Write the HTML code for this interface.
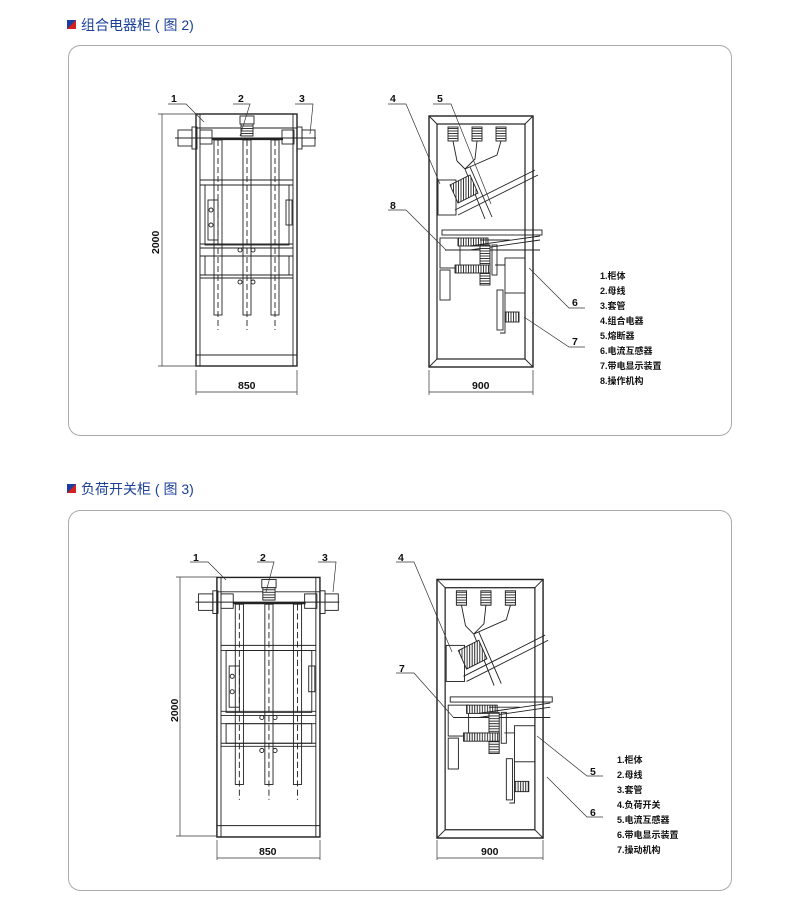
<!DOCTYPE html>
<html><head><meta charset="utf-8"><style>
body{margin:0;background:#fff;width:800px;height:916px;overflow:hidden;font-family:"Liberation Sans","Noto Sans CJK SC",sans-serif}
svg{position:absolute;left:0;top:0}
</style></head><body>
<svg width="800" height="916" viewBox="0 0 800 916" xmlns="http://www.w3.org/2000/svg">
<defs>
<pattern id="coil" width="2.5" height="4" patternUnits="userSpaceOnUse"><rect width="2.5" height="4" fill="#fff"/><line x1="1" y1="0" x2="1" y2="4" stroke="#222" stroke-width="0.9"/></pattern>
<pattern id="coilh" width="4" height="2.5" patternUnits="userSpaceOnUse"><rect width="4" height="2.5" fill="#fff"/><line x1="0" y1="1" x2="4" y2="1" stroke="#222" stroke-width="0.9"/></pattern>
<g id="front" fill="none" stroke="#222" stroke-width="0.9">
  <rect x="196" y="114" width="101" height="252" stroke-width="1.4"/>
  <line x1="200" y1="114" x2="200" y2="366"/><line x1="293" y1="114" x2="293" y2="366"/>
  <line x1="196" y1="128" x2="297" y2="128"/><line x1="196" y1="355" x2="297" y2="355"/>
  <rect x="178" y="130" width="14" height="16"/><rect x="192" y="127" width="5" height="22"/>
  <rect x="200" y="130" width="12" height="14"/>
  <rect x="282" y="130" width="12" height="14"/>
  <rect x="297" y="127" width="5" height="22"/><rect x="302" y="130" width="13" height="16"/>
  <line x1="175" y1="138" x2="316" y2="138"/>
  <rect x="240" y="116" width="14" height="8"/>
  <rect x="241" y="124" width="12" height="12" fill="url(#coilh)"/>
  <line x1="212" y1="139" x2="283" y2="139" stroke-width="2.2"/>
  <rect x="214" y="140" width="8" height="175"/><rect x="243" y="140" width="8" height="175"/><rect x="271" y="140" width="8" height="175"/>
  <path d="M218 140v190M247 140v190M275 140v190" stroke-dasharray="6 3"/>
  <line x1="200" y1="180" x2="293" y2="180"/><line x1="200" y1="185" x2="293" y2="185"/>
  <line x1="200" y1="244" x2="293" y2="244"/><line x1="200" y1="248" x2="293" y2="248"/><line x1="200" y1="256" x2="293" y2="256"/>
  <line x1="200" y1="275" x2="293" y2="275"/><line x1="200" y1="278" x2="293" y2="278"/>
  <rect x="205" y="185" width="84" height="60"/>
  <rect x="208" y="200" width="10" height="40"/><circle cx="211" cy="210" r="2"/><circle cx="211" cy="225" r="2"/>
  <rect x="286" y="200" width="6" height="25"/>
  <circle cx="240" cy="250" r="2"/><circle cx="253" cy="250" r="2"/>
  <circle cx="240" cy="282" r="2"/><circle cx="253" cy="282" r="2"/>
  <rect x="205" y="256" width="84" height="19"/>
</g>
<g id="side" fill="none" stroke="#222" stroke-width="0.9">
  <rect x="429" y="116" width="104" height="251" stroke-width="1.4"/>
  <rect x="437" y="124" width="88" height="235" stroke-width="1.2"/>
  <path d="M429 116l8 8M533 116l-8 8M429 367l8-8M533 367l-8-8"/>
  <rect x="448" y="127" width="10" height="14" fill="url(#coilh)"/><rect x="472" y="127" width="10" height="14" fill="url(#coilh)"/><rect x="496" y="127" width="10" height="14" fill="url(#coilh)"/>
  <path d="M453 141l4 20 8 8M477 141l-2 18-10 10M501 141l-4 14-32 14"/>
  <path d="M465 169l20 50M470 167l22 50"/>
  <rect x="438" y="180" width="18" height="35"/>
  <path d="M450 185l20-10 8 18-20 10z" fill="url(#coil)"/>
  <path d="M455 210l80-40M458 215l80-40"/>
  <rect x="442" y="230" width="100" height="5"/>
  <rect x="440" y="238" width="20" height="30"/>
  <rect x="458" y="238" width="30" height="8" fill="url(#coil)"/>
  <path d="M480 240h30M470 246l70-10M470 250l70 -10M445 250h95"/>
  <rect x="480" y="245" width="10" height="40" fill="url(#coilh)"/><rect x="492" y="245" width="5" height="30"/>
  <rect x="455" y="265" width="35" height="8" fill="url(#coil)"/>
  <rect x="505" y="258" width="20" height="35"/><path d="M495 265h10M505 293v40h-5"/>
  <rect x="440" y="270" width="10" height="30"/>
  <rect x="497" y="290" width="6" height="40"/>
  <rect x="505" y="312" width="14" height="10" fill="url(#coil)"/>
</g>
</defs>

<!-- Section 1 -->
<rect x="67" y="20" width="9" height="9" fill="#1a3fa0"/><path d="M67 29L76 20V29z" fill="#d42020"/>
<text x="81" y="30" font-size="14" fill="#1b3f9a">组合电器柜 ( 图 2)</text>
<rect x="68.5" y="45.5" width="663" height="390" rx="12" fill="none" stroke="#aaa" stroke-width="1"/>
<use href="#front"/><use href="#side"/>
<g stroke="#333" stroke-width="0.7" fill="none">
  <path d="M162 114v252M158 114h38M158 366h38"/>
  <path d="M196 370v25M297 370v25M196 392h101M429 370v25M533 370v25M429 392h104"/>
  <path d="M168 104h18l18 18M233 104h17l-10 32M295 104h18l-3 30"/>
  <path d="M388 104h18l34 80M433 104h18l40 100M388 210h18l40 40"/>
  <path d="M585 308h-16l-40-40M585 347h-16l-45-30"/>
</g>
<g font-size="10.5" fill="#111" font-weight="bold">
<text x="171" y="102">1</text><text x="238" y="102">2</text><text x="299" y="102">3</text>
<text x="390" y="102">4</text><text x="437" y="102">5</text><text x="390" y="209">8</text>
<text x="572" y="306">6</text><text x="572" y="345">7</text>
<text x="238" y="389">850</text><text x="472" y="389">900</text>
<text transform="translate(159 254) rotate(-90)">2000</text>
</g>
<g font-size="9" fill="#111" font-weight="bold">
<text x="600" y="279">1.柜体</text><text x="600" y="294">2.母线</text><text x="600" y="309">3.套管</text><text x="600" y="324">4.组合电器</text>
<text x="600" y="339">5.熔断器</text><text x="600" y="354">6.电流互感器</text><text x="600" y="369">7.带电显示装置</text><text x="600" y="384">8.操作机构</text>
</g>

<!-- Section 2 -->
<rect x="67" y="484" width="9" height="9" fill="#1a3fa0"/><path d="M67 493L76 484V493z" fill="#d42020"/>
<text x="81" y="494" font-size="14" fill="#1b3f9a">负荷开关柜 ( 图 3)</text>
<rect x="68.5" y="510.5" width="663" height="380" rx="12" fill="none" stroke="#aaa" stroke-width="1"/>
<g transform="translate(17 460) scale(1.02 1.03)"><use href="#front"/></g>
<g transform="translate(-0.6 460) scale(1.02 1.03)"><use href="#side"/></g>
<g stroke="#333" stroke-width="0.7" fill="none">
  <path d="M180 577v259M176 577h41M176 836h41"/>
  <path d="M217 840v20M320 840v20M217 858h103M437 840v20M543 840v20M437 858h106"/>
  <path d="M190 562h18l18 18M257 562h17l-8 30M318 562h18l-3 30"/>
  <path d="M396 562h18l38 90M396 673h18l40 45"/>
  <path d="M603 776h-16l-50-40M603 817h-16l-40-40"/>
</g>
<g font-size="10.5" fill="#111" font-weight="bold">
<text x="193" y="561">1</text><text x="260" y="561">2</text><text x="322" y="561">3</text>
<text x="398" y="561">4</text><text x="399" y="672">7</text>
<text x="590" y="775">5</text><text x="590" y="816">6</text>
<text x="259" y="855">850</text><text x="481" y="855">900</text>
<text transform="translate(178 722) rotate(-90)">2000</text>
</g>
<g font-size="9" fill="#111" font-weight="bold">
<text x="617" y="763">1.柜体</text><text x="617" y="778">2.母线</text><text x="617" y="793">3.套管</text><text x="617" y="808">4.负荷开关</text>
<text x="617" y="823">5.电流互感器</text><text x="617" y="838">6.带电显示装置</text><text x="617" y="853">7.操动机构</text>
</g>
</svg>
</body></html>
